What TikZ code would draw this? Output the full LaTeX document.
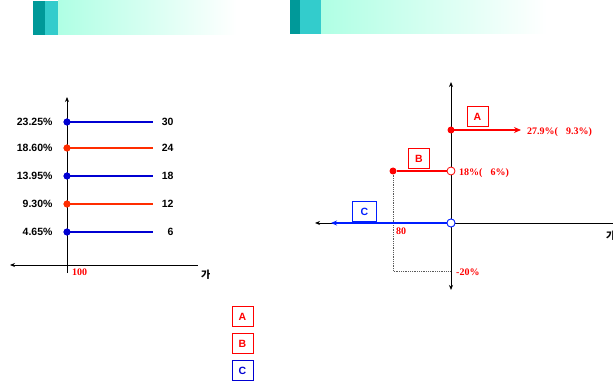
\documentclass[tikz,border=0pt]{standalone}
\usepackage{fontspec}
\setmainfont{Liberation Serif}
\setsansfont{Liberation Sans}
\newfontfamily\krfont{Noto Sans CJK KR}
\usetikzlibrary{arrows.meta,positioning}

\definecolor{tealdark}{RGB}{0,153,153}
\definecolor{teallight}{RGB}{51,204,204}
\definecolor{mint}{RGB}{175,255,228}
\definecolor{lblue}{RGB}{0,0,210}
\definecolor{lred}{RGB}{255,45,0}
\definecolor{cred}{RGB}{255,0,0}
\definecolor{cblue}{RGB}{0,30,255}

\tikzset{
  axis/.style={line width=0.9pt,-{Stealth[length=5pt,width=4pt]}},
  dot/.style={circle,fill,inner sep=0pt,minimum size=7pt},
  hole/.style={circle,draw,fill=white,line width=0.8pt,inner sep=0pt,minimum width=6pt,minimum height=8pt},
  numlbl/.style={font=\sffamily\bfseries\fontsize{10.5}{12}\selectfont},
  redlbl/.style={font=\bfseries\fontsize{10}{12}\selectfont,text=cred},
  tag/.style={draw,line width=1pt,minimum width=21pt,minimum height=20pt,inner sep=0pt,
    font=\sffamily\bfseries\fontsize{10.5}{12}\selectfont}
}

\begin{document}
\begin{tikzpicture}[x=1pt,y=-1pt]
\useasboundingbox (0,0) rectangle (613,382);

% Draw the title bars
\fill[tealdark] (33,1) rectangle (45,35);
\fill[teallight] (45,1) rectangle (58,35);
\shade[left color=mint,right color=white] (58,1) rectangle (237,35);
\fill[tealdark] (290,0) rectangle (300,34);
\fill[teallight] (300,0) rectangle (321,34);
\shade[left color=mint,right color=white] (321,0) rectangle (547,34);

% Left chart: axes
\coordinate (L0) at (67,273);
\coordinate (Ltop) at (67,97);
\coordinate (Lleft) at (10,265);
\coordinate (Lright) at (198,265);
\draw[axis] (L0) -- (Ltop);
\draw[axis,{Stealth[length=5pt,width=4pt]}-] (Lleft) -- (Lright);
\node[redlbl,anchor=north west,inner sep=0pt] (Lhund) at (72,269) {100};
\node[font=\krfont\bfseries\fontsize{10}{12}\selectfont,anchor=north west,inner sep=0pt] (Lga) at (201,270) {가};

% Left chart: price lines
\foreach \y/\n/\p/\c [count=\i] in {122/30/23.25\%/lblue, 148/24/18.60\%/lred,
    176/18/13.95\%/lblue, 204/12/9.30\%/lred, 232/6/4.65\%/lblue} {
  \node[dot,fill=\c] (ld\i) at (67,\y) {};
  \coordinate (le\i) at (153,\y);
  \draw[draw=\c,line width=2pt] (ld\i.center) -- (le\i);
  \node[dot,fill=\c] at (ld\i) {};
  \node[numlbl,anchor=east] (lp\i) at (56,\y) {\p};
  \node[numlbl,anchor=east] (ln\i) at (177,\y) {\n};
}

% Right chart: axes
\coordinate (O) at (451,223);
\coordinate (Rtop) at (451,82);
\coordinate (Rbot) at (451,290);
\coordinate (Rleft) at (315,223);
\coordinate (Rright) at (620,223);
\draw[axis] (O) -- (Rtop);
\draw[axis] (O) -- (Rbot);
\draw[axis] (Rright) -- (Rleft);
\node[font=\krfont\bfseries\fontsize{10}{12}\selectfont,anchor=north west,inner sep=0pt] (Rga) at (606,231) {가};

% Dotted guide for 80 and -20%
\coordinate (Bstart) at (393,171);
\coordinate (Bcorner) at (393,271);
\coordinate (Bend) at (450,271);
\draw[gray!70!black,densely dotted,line width=0.8pt] (Bstart) -- (Bcorner) -- (Bend);
\node[redlbl,anchor=north west,inner sep=0pt] (eighty) at (396,228) {80};
\node[redlbl,anchor=west,inner sep=0pt] (minus) at (456,272) {-20\%};

% A
\node[dot,fill=cred] (Adot) at (451,130) {};
\coordinate (Aend) at (521,130);
\draw[cred,line width=2pt,-{Stealth[length=7pt,width=6pt]}] (Adot.center) -- (Aend);
\node[redlbl,anchor=west,inner sep=0pt] (Alab) at (527,132) {27.9\%(\hspace{8pt}9.3\%)};
\node[tag,draw=cred,text=cred] (Abox) at (477.5,117) {A};

% B
\node[dot,fill=cred] (Bdot) at (Bstart) {};
\node[hole,draw=cred] (Bhole) at (451,171) {};
\draw[cred,line width=2pt] (Bdot) -- (Bhole);
\node[redlbl,anchor=west,inner sep=0pt] (Blab) at (459,173) {18\%(\hspace{8pt}6\%)};
\node[tag,draw=cred,text=cred] (Bbox) at (419,158.5) {B};

% C
\node[hole,draw=cblue] (Chole) at (O) {};
\coordinate (Cend) at (331,223);
\draw[cblue,line width=2pt,-{Stealth[length=6pt,width=5pt]}] (Chole) -- (Cend);
\node[hole,draw=cblue] at (O) {};
\node[tag,draw=cblue,text=cblue,minimum width=24pt] (Cbox) at (364.5,211.5) {C};

% Legend
\node[tag,draw=cred,text=cred] (legA) at (242.5,316.5) {A};
\node[tag,draw=cred,text=cred,below=6pt of legA] (legB) {B};
\node[tag,draw=lblue,text=lblue,below=6pt of legB] (legC) {C};

\end{tikzpicture}
\end{document}
